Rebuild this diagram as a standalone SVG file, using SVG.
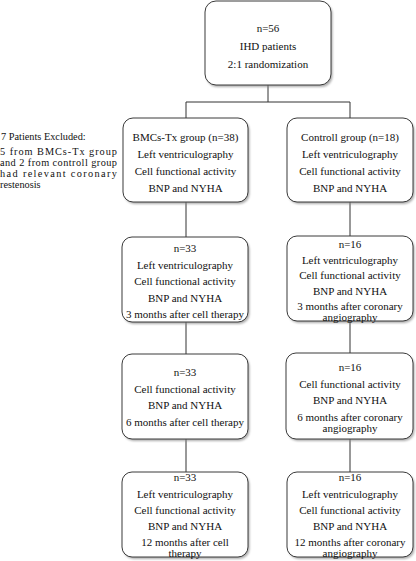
<svg xmlns="http://www.w3.org/2000/svg" width="416" height="561" viewBox="0 0 416 561">
<style>
.box{fill:#fff;stroke:#3a3a3a;stroke-width:1}
.sh{fill:#8a8a8a;opacity:0.7}
.t{font-family:"Liberation Serif","Times New Roman",serif;font-size:11px;fill:#111;text-anchor:middle}
.x{font-family:"Liberation Serif","Times New Roman",serif;font-size:10.3px;fill:#111}
.c{stroke:#333;stroke-width:1;fill:none}
</style>
<defs>
<filter id="blur" x="-10%" y="-10%" width="120%" height="120%"><feGaussianBlur stdDeviation="1"/></filter>
</defs>
<rect width="416" height="561" fill="#fff"/>
<g id="connectors">
<path class="c" d="M268,85V102M186,102H350M186,102V118M350,102V118M186,202V237M350,202V236M186,322V354M350,321V353M186,439V472M350,439V472"/>
</g>
<g id="n0">
<rect class="sh" x="206.5" y="3" width="126" height="84" rx="11" filter="url(#blur)"/>
<rect class="box" x="205" y="1" width="126" height="84" rx="11"/>
<text class="t" x="268" y="32">n=56</text>
<text class="t" x="268" y="50">IHD patients</text>
<text class="t" x="268" y="68">2:1 randomization</text>
</g>
<g id="excluded">
<text class="x" x="1" y="140">7 Patients Excluded:</text>
<text class="x" x="0" y="155" textLength="117" lengthAdjust="spacing">5 from BMCs-Tx group</text>
<text class="x" x="0" y="166" textLength="117" lengthAdjust="spacing">and 2 from controll group</text>
<text class="x" x="0" y="177" textLength="117" lengthAdjust="spacing">had relevant coronary</text>
<text class="x" x="0" y="188">restenosis</text>
</g>
<g id="n1">
<rect class="sh" x="124.5" y="120" width="125" height="84" rx="10" filter="url(#blur)"/>
<rect class="box" x="123" y="118" width="125" height="84" rx="10"/>
<text class="t" x="185.5" y="141">BMCs-Tx group (n=38)</text>
<text class="t" x="185.5" y="158">Left ventriculography</text>
<text class="t" x="185.5" y="175">Cell functional activity</text>
<text class="t" x="185.5" y="192">BNP and NYHA</text>
</g>
<g id="n2">
<rect class="sh" x="288.5" y="120" width="126" height="84" rx="10" filter="url(#blur)"/>
<rect class="box" x="287" y="118" width="126" height="84" rx="10"/>
<text class="t" x="350" y="141">Controll group (n=18)</text>
<text class="t" x="350" y="158">Left ventriculography</text>
<text class="t" x="350" y="175">Cell functional activity</text>
<text class="t" x="350" y="192">BNP and NYHA</text>
</g>
<g id="n3">
<rect class="sh" x="123.5" y="239" width="126" height="85" rx="10" filter="url(#blur)"/>
<rect class="box" x="122" y="237" width="126" height="85" rx="10"/>
<text class="t" x="185" y="252">n=33</text>
<text class="t" x="185" y="268.5">Left ventriculography</text>
<text class="t" x="185" y="285">Cell functional activity</text>
<text class="t" x="185" y="301.5">BNP and NYHA</text>
<text class="t" x="185" y="318">3 months after cell therapy</text>
</g>
<g id="n4">
<rect class="sh" x="288.5" y="238" width="126" height="85" rx="10" filter="url(#blur)"/>
<rect class="box" x="287" y="236" width="126" height="85" rx="10"/>
<text class="t" x="350" y="248">n=16</text>
<text class="t" x="350" y="263.5">Left ventriculography</text>
<text class="t" x="350" y="279">Cell functional activity</text>
<text class="t" x="350" y="294.5">BNP and NYHA</text>
<text class="t" x="350" y="310">3 months after coronary</text>
<text class="t" x="350" y="321">angiography</text>
</g>
<g id="n5">
<rect class="sh" x="123.5" y="356" width="126" height="85" rx="10" filter="url(#blur)"/>
<rect class="box" x="122" y="354" width="126" height="85" rx="10"/>
<text class="t" x="185" y="376">n=33</text>
<text class="t" x="185" y="392.5">Cell functional activity</text>
<text class="t" x="185" y="409">BNP and NYHA</text>
<text class="t" x="185" y="425.5">6 months after cell therapy</text>
</g>
<g id="n6">
<rect class="sh" x="287.5" y="355" width="127" height="86" rx="10" filter="url(#blur)"/>
<rect class="box" x="286" y="353" width="127" height="86" rx="10"/>
<text class="t" x="350" y="371">n=16</text>
<text class="t" x="350" y="387.5">Cell functional activity</text>
<text class="t" x="350" y="404">BNP and NYHA</text>
<text class="t" x="350" y="420.5">6 months after coronary</text>
<text class="t" x="350" y="431.5">angiography</text>
</g>
<g id="n7">
<rect class="sh" x="123.5" y="474" width="126" height="85" rx="10" filter="url(#blur)"/>
<rect class="box" x="122" y="472" width="126" height="85" rx="10"/>
<text class="t" x="185" y="481">n=33</text>
<text class="t" x="185" y="497.5">Left ventriculography</text>
<text class="t" x="185" y="514">Cell functional activity</text>
<text class="t" x="185" y="530">BNP and NYHA</text>
<text class="t" x="185" y="546">12 months after cell</text>
<text class="t" x="185" y="557">therapy</text>
</g>
<g id="n8">
<rect class="sh" x="288.5" y="474" width="126" height="85" rx="10" filter="url(#blur)"/>
<rect class="box" x="287" y="472" width="126" height="85" rx="10"/>
<text class="t" x="350" y="481">n=16</text>
<text class="t" x="350" y="497.5">Left ventriculography</text>
<text class="t" x="350" y="514">Cell functional activity</text>
<text class="t" x="350" y="530">BNP and NYHA</text>
<text class="t" x="350" y="546">12 months after coronary</text>
<text class="t" x="350" y="557">angiography</text>
</g>
</svg>
